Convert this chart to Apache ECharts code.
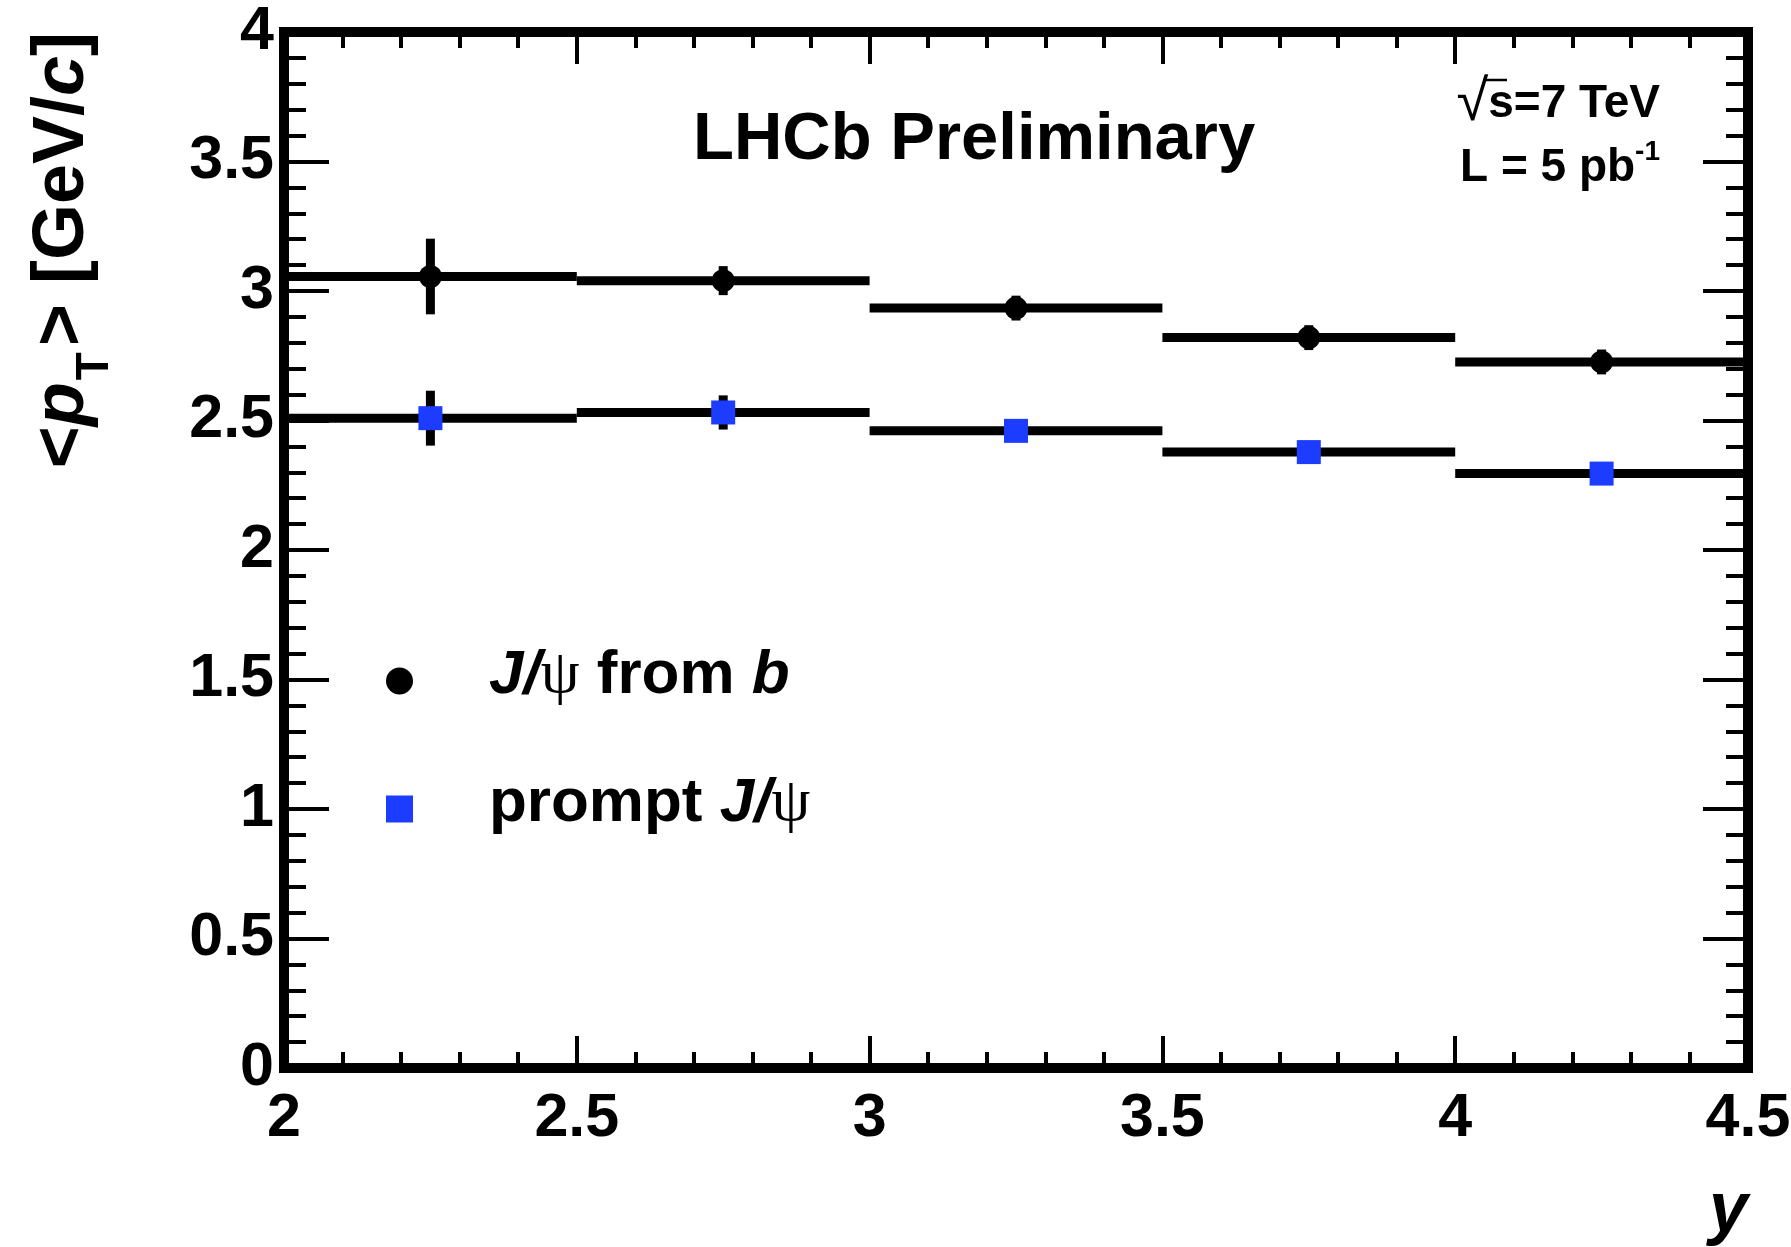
<!DOCTYPE html>
<html><head><meta charset="utf-8">
<script src="https://cdn.jsdelivr.net/npm/echarts@6/dist/echarts.min.js"></script>
<style>html,body{margin:0;padding:0;background:#fff}#c{width:1791px;height:1247px}</style>
</head><body><div id="c"></div>
<script>
// ---- data ----
const binLow    = [2.0, 2.5, 3.0, 3.5, 4.0];
const binHigh   = [2.5, 3.0, 3.5, 4.0, 4.5];
const binCenter = [2.25, 2.75, 3.25, 3.75, 4.25];
const fromBMean = [3.056, 3.040, 2.934, 2.820, 2.726];
const fromBErr  = [0.146, 0.056, 0.048, 0.048, 0.048];
const promptMean = [2.509, 2.531, 2.460, 2.378, 2.295];
const promptErr  = [0.106, 0.066, 0.040, 0.040, 0.040];
const seriesNames = ['J/ψ from b', 'prompt J/ψ'];
const xTickLabels = ['2', '2.5', '3', '3.5', '4', '4.5'];
const yTickLabels = ['0', '0.5', '1', '1.5', '2', '2.5', '3', '3.5', '4'];

const FONT = "'Liberation Sans', Arial, Helvetica, sans-serif";
const SERIF = "'Liberation Serif', 'DejaVu Serif', serif";
const BLUE = '#1c3cff';

function binRows(mean, err) {
  return binLow.map((lo, i) => [lo, binHigh[i], binCenter[i], mean[i], err[i]]);
}
function pointRows(mean) {
  return binCenter.map((c, i) => [c, mean[i]]);
}
function renderBin(params, api) {
  const y = api.value(3), e = api.value(4), c = api.value(2);
  const a = api.coord([api.value(0), y]);
  const b = api.coord([api.value(1), y]);
  const t = api.coord([c, y + e]);
  const u = api.coord([c, y - e]);
  const st = { stroke: '#000', lineWidth: 9 };
  return { type: 'group', children: [
    { type: 'line', shape: { x1: a[0], y1: a[1], x2: b[0], y2: b[1] }, style: st },
    { type: 'line', shape: { x1: t[0], y1: t[1], x2: u[0], y2: u[1] }, style: st }
  ]};
}

const frameLine = { show: true, onZero: false, lineStyle: { color: '#000', width: 10, cap: 'square' } };
function xAxisDef(pos, showLabel) {
  return {
    type: 'value', position: pos, min: 2, max: 4.5, interval: 0.5,
    axisLine: frameLine,
    axisTick: { show: true, inside: true, length: 32, lineStyle: { color: '#000', width: 4 } },
    minorTick: { show: true, splitNumber: 5, length: 16, lineStyle: { color: '#000', width: 4 } },
    splitLine: { show: false }, minorSplitLine: { show: false },
    axisLabel: {
      show: showLabel, margin: 21, color: '#000', fontSize: 61, fontWeight: 'bold', fontFamily: FONT,
      showMinLabel: true, showMaxLabel: true,
      formatter: v => xTickLabels[Math.round((v - 2) / 0.5)]
    }
  };
}
function yAxisDef(pos, showLabel) {
  return {
    type: 'value', position: pos, min: 0, max: 4, interval: 0.5,
    axisLine: frameLine,
    axisTick: { show: true, inside: true, length: 45, lineStyle: { color: '#000', width: 4 } },
    minorTick: { show: true, splitNumber: 5, length: 22, lineStyle: { color: '#000', width: 4 } },
    splitLine: { show: false }, minorSplitLine: { show: false },
    axisLabel: {
      show: showLabel, margin: 10, color: '#000', fontSize: 61, fontWeight: 'bold', fontFamily: FONT,
      showMinLabel: true, showMaxLabel: true,
      formatter: v => yTickLabels[Math.round(v / 0.5)]
    }
  };
}

const xBottom = xAxisDef('bottom', true);
xBottom.name = 'y';
xBottom.nameLocation = 'end';
xBottom.nameGap = 0;
xBottom.nameMoveOverlap = false;
xBottom.nameTextStyle = { color: '#000', fontSize: 70, fontWeight: 'bold', fontStyle: 'italic', fontFamily: FONT,
  lineHeight: 70, align: 'right', verticalAlign: 'top', padding: [109, 0, 0, 0] };

const yLeft = yAxisDef('left', true);
yLeft.name = '{n|<}{i|p}{s|T}{n|> [GeV/}{i|c}{n|]}';
yLeft.nameLocation = 'end';
yLeft.nameGap = 0;
yLeft.nameRotate = 90;
yLeft.nameMoveOverlap = false;
yLeft.nameTextStyle = {
  color: '#000', fontSize: 72, fontWeight: 'bold', fontFamily: FONT,
  align: 'right', verticalAlign: 'bottom', padding: [0, 0, 166, 0],
  rich: {
    n: { fontSize: 72, fontWeight: 'bold', fontFamily: FONT, color: '#000', lineHeight: 110 },
    i: { fontSize: 72, fontWeight: 'bold', fontStyle: 'italic', fontFamily: FONT, color: '#000', lineHeight: 110 },
    s: { fontSize: 46, fontWeight: 'bold', fontFamily: FONT, color: '#000', lineHeight: 46, verticalAlign: 'bottom', padding: [0, 6, 0, 2] }
  }
};

const legendRich = {
  b:   { fontSize: 62, fontWeight: 'bold', fontFamily: FONT, color: '#000', lineHeight: 62 },
  bi:  { fontSize: 62, fontWeight: 'bold', fontStyle: 'italic', fontFamily: FONT, color: '#000', lineHeight: 62 },
  psi: { fontSize: 62, fontWeight: 'normal', fontFamily: SERIF, color: '#000', lineHeight: 62 }
};

const option = {
  animation: false,
  backgroundColor: '#fff',
  grid: { left: 284, right: 43, top: 32, bottom: 179, containLabel: false, outerBoundsMode: 'none' },
  title: [{
    text: 'LHCb Preliminary', left: 693, top: 107, padding: 0,
    textStyle: { fontSize: 67, fontWeight: 'bold', fontFamily: FONT, color: '#000' }
  }],
  legend: {
    orient: 'vertical', left: 386, top: 645, padding: 0,
    itemWidth: 27, itemHeight: 27, itemGap: 56, selectedMode: false,
    data: [{ name: seriesNames[0], icon: 'circle' }, { name: seriesNames[1], icon: 'rect' }],
    formatter: name => name === seriesNames[0]
      ? '{bi|J/}{psi|ψ}{b| from }{bi|b}'
      : '{b|prompt }{bi|J/}{psi|ψ}',
    textStyle: { fontSize: 62, fontWeight: 'bold', fontFamily: FONT, color: '#000', lineHeight: 62,
      padding: [0, 0, 10, 71], rich: legendRich }
  },
  graphic: [
    { type: 'text', x: 1660, y: 104, z: 10,
      style: { text: '{r|√}{n|s=7 TeV}', align: 'right', verticalAlign: 'middle',
        rich: {
          r: { fontSize: 58, fontFamily: FONT, fill: '#000', lineHeight: 58 },
          n: { fontSize: 46, fontWeight: 'bold', fontFamily: FONT, fill: '#000', lineHeight: 58 }
        } } },
    { type: 'line', z: 10, shape: { x1: 1483, y1: 80, x2: 1507, y2: 80 }, style: { stroke: '#000', lineWidth: 2.5 } },
    { type: 'text', x: 1660, y: 168, z: 10,
      style: { text: '{n|L = 5 pb}{sup|-1}', align: 'right', verticalAlign: 'middle',
        rich: {
          n: { fontSize: 46, fontWeight: 'bold', fontFamily: FONT, fill: '#000', lineHeight: 60 },
          sup: { fontSize: 28, fontWeight: 'bold', fontFamily: FONT, fill: '#000', lineHeight: 28, verticalAlign: 'top' }
        } } }
  ],
  xAxis: [xBottom, xAxisDef('top', false)],
  yAxis: [yLeft, yAxisDef('right', false)],
  series: [
    { type: 'custom', name: 'binsB', xAxisIndex: 0, yAxisIndex: 0, renderItem: renderBin, clip: false,
      encode: { x: [0, 1, 2], y: [3] }, data: binRows(fromBMean, fromBErr), z: 2, silent: true },
    { type: 'custom', name: 'binsPrompt', xAxisIndex: 0, yAxisIndex: 0, renderItem: renderBin, clip: false,
      encode: { x: [0, 1, 2], y: [3] }, data: binRows(promptMean, promptErr), z: 2, silent: true },
    { type: 'scatter', name: seriesNames[0], symbol: 'circle', symbolSize: 23, z: 4,
      itemStyle: { color: '#000', opacity: 1 }, data: pointRows(fromBMean) },
    { type: 'scatter', name: seriesNames[1], symbol: 'rect', symbolSize: 24, z: 4,
      itemStyle: { color: BLUE, opacity: 1 }, data: pointRows(promptMean) }
  ]
};
const chart = echarts.init(document.getElementById('c'), null, { renderer: 'canvas' });
chart.setOption(option);
</script>
</body></html>
